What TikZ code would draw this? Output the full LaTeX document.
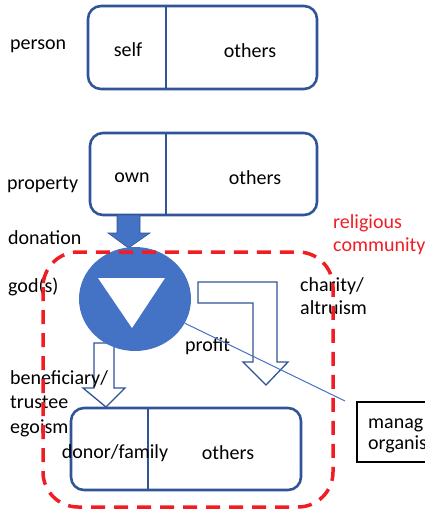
\documentclass[tikz,border=0pt]{standalone}
\usepackage{fontspec}
\setmainfont{Carlito}
\usetikzlibrary{shapes.geometric}
\definecolor{boxblue}{HTML}{2F5597}
\definecolor{fillblue}{HTML}{4472C4}
\definecolor{commred}{HTML}{F01E23}
\begin{document}
\begin{tikzpicture}[x=1pt,y=-1pt]
  \tikzstyle{every node}=[font=\fontsize{20}{24}\selectfont, inner sep=0pt]
  \tikzstyle{box}=[draw=boxblue, line width=2.6pt, rounded corners=13pt]
  \tikzstyle{split}=[draw=boxblue, line width=2pt]
  \tikzstyle{hollow}=[draw=boxblue, fill=white, line width=1.3pt, line join=miter]
  \useasboundingbox (0,0) rectangle (424,509);
  % person
  \node[box, minimum width=229pt, minimum height=83pt] (personbox) at (202.5,47.5) {};
  \draw[split] (166,6)--(166,89);
  \node[anchor=mid west] (person) at (10,47) {person};
  \node[anchor=mid] (self) at (128,54) {self};
  \node[anchor=mid] (others1) at (250,55) {others};
  % property
  \node[box, minimum width=227pt, minimum height=82pt] (propbox) at (203.5,174) {};
  \draw[split] (166,133)--(166,215);
  \node[anchor=mid west] (property) at (7,187) {property};
  \node[anchor=mid] (own) at (132,180) {own};
  \node[anchor=mid] (others2) at (255,182) {others};
  % donation
  \draw[fill=fillblue, draw=boxblue, line width=0.6pt] (117,215)--(140,215)--(140,233)--(150,233)--(128.5,248)--(108,233)--(117,233)--cycle;
  \node[anchor=mid west] (donation) at (8,242) {donation};
  % flows out of god(s)
  \draw[hollow] (94,343)--(114,343)--(114,388)--(125,388)--(106,407)--(83,388)--(94,388)--cycle;
  \draw[hollow] (198,282)--(277,282)--(277,362)--(288,362)--(266,385)--(243,362)--(253,362)--(253,303)--(198,303)--cycle;
  \node[fill=fillblue, ellipse, minimum width=112pt, minimum height=104pt] (god) at (135,299) {};
  \fill[white] (98,278)--(165,278)--(132,328)--cycle;
  \node[anchor=mid west] (gods) at (8,290) {god(s)};
  \node[anchor=mid west] (charity) at (300,289) {charity/};
  \node[anchor=mid west] (altruism) at (300,312) {altruism};
  \node[anchor=mid west] (profit) at (185,349) {profit};
  \coordinate (profitend) at (345,401);
  \draw[fillblue, line width=1pt] (god)--(profitend);
  % management
  \node[draw=black, line width=1.2pt, minimum width=140pt, minimum height=60pt] (managbox) at (427,432) {};
  \node[anchor=mid west] (manag) at (368,426) {manag};
  \node[anchor=mid west] (organis) at (368,447) {organis};
  % beneficiary
  \node[anchor=mid west] (benef) at (10,382) {beneficiary/};
  \node[anchor=mid west] (trustee) at (10,406) {trustee};
  \node[anchor=mid west] (egoism) at (10,431) {egoism};
  \node[box, minimum width=230pt, minimum height=82pt] (donorbox) at (186,449) {};
  \draw[split] (148,408)--(148,490);
  \node[anchor=mid] (donor) at (115,456) {donor/family};
  \node[anchor=mid] (others3) at (228,457) {others};
  % religious community
  \draw[commred, line width=3.5pt, dash pattern=on 14pt off 9pt, rounded corners=35pt] (43,252) rectangle (333,507);
  \node[anchor=mid west, text=commred] (relig) at (333,226) {religious};
  \node[anchor=mid west, text=commred] (comm) at (333,249) {community};
\end{tikzpicture}
\end{document}
